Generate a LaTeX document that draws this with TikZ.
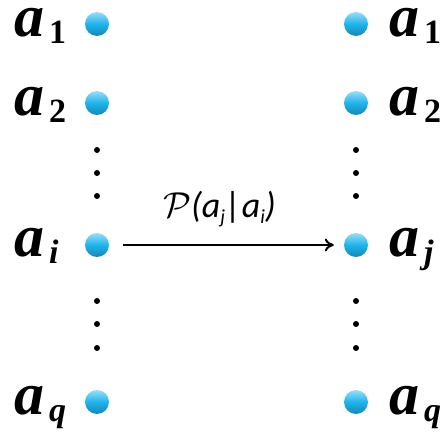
\documentclass[tikz,border=0pt]{standalone}
\usepackage{graphicx}
\usepackage{fontspec}
\setmainfont{Liberation Serif}
\newfontfamily\carlito{Carlito}
\usetikzlibrary{arrows.meta}
\definecolor{dotblue}{HTML}{1EB4EC}
\newcommand{\albl}[2]{{\fontsize{60}{60}\selectfont\bfseries\itshape a}\kern5pt\raisebox{-7pt}{\fontsize{34}{34}\selectfont\bfseries #2}}
\newcommand{\psub}[1]{\raisebox{-6pt}{\fontsize{20}{20}\selectfont #1}}
\tikzset{
  bluedot/.style={circle, inner sep=0pt, minimum size=24pt, top color=dotblue!45!white, bottom color=dotblue!75!black, middle color=dotblue},
  smalldot/.style={circle, fill=black, inner sep=0pt, minimum size=6pt},
  lbl/.style={anchor=base west, inner sep=0pt, text height=28pt, text depth=14pt},
}
\begin{document}
\begin{tikzpicture}[x=1pt,y=-1pt]
\useasboundingbox (0,0) rectangle (440,438);
% left column
\node[bluedot] (l1) at (97,24) {};
\node[bluedot] (l2) at (97,103) {};
\node[bluedot] (li) at (97,245) {};
\node[bluedot] (lq) at (97,402) {};
\node[smalldot] (ld1) at (97,150) {};
\node[smalldot] (ld2) at (97,173) {};
\node[smalldot] (ld3) at (97,196) {};
\node[smalldot] (ld4) at (97,301) {};
\node[smalldot] (ld5) at (97,324) {};
\node[smalldot] (ld6) at (97,348) {};
% right column
\node[bluedot] (r1) at (356,24) {};
\node[bluedot] (r2) at (356,103) {};
\node[bluedot] (rj) at (356,245) {};
\node[bluedot] (rq) at (356,402) {};
\node[smalldot] (rd1) at (356,150) {};
\node[smalldot] (rd2) at (356,173) {};
\node[smalldot] (rd3) at (356,196) {};
\node[smalldot] (rd4) at (356,301) {};
\node[smalldot] (rd5) at (356,324) {};
\node[smalldot] (rd6) at (356,348) {};
% labels
\node[lbl] (tl1) at (14,37) {\albl{a}{1}};
\node[lbl] (tl2) at (14,116) {\albl{a}{2}};
\node[lbl] (tli) at (14,257) {\albl{a}{\itshape i}};
\node[lbl] (tlq) at (14,415) {\albl{a}{\itshape q}};
\node[lbl] (tr1) at (389,37) {\albl{a}{1}};
\node[lbl] (tr2) at (389,116) {\albl{a}{2}};
\node[lbl] (trj) at (389,257) {\albl{a}{\itshape j}};
\node[lbl] (trq) at (389,415) {\albl{a}{\itshape q}};
% arrow
\draw[line width=2pt, -{To[length=9pt,width=13pt]}, shorten <=14pt, shorten >=10pt] (li) -- node[pos=0.47, anchor=base, yshift=27pt, inner sep=0pt] (p) {\scalebox{3.6}{$\mathcal{P}$}{\carlito\itshape\fontsize{36}{36}\selectfont (a\psub{j}|a\psub{i})}} (rj);
\end{tikzpicture}
\end{document}
